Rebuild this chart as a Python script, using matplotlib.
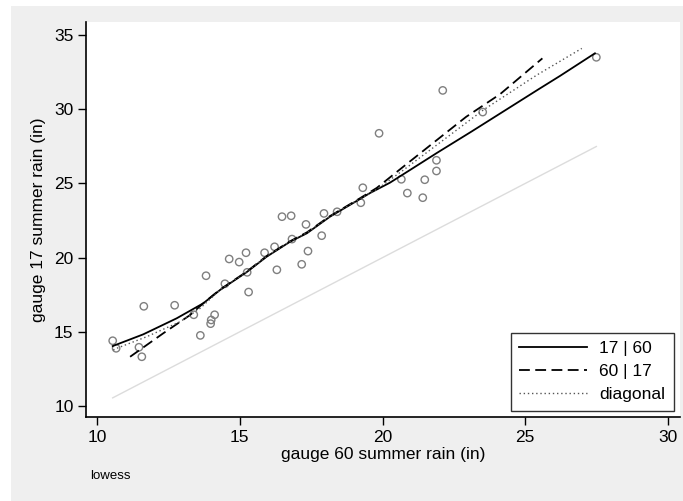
import numpy as np
import matplotlib
matplotlib.use("Agg")
import matplotlib.pyplot as plt
from matplotlib.patches import Rectangle

plt.rcParams['font.family'] = ['Liberation Sans Narrow', 'Liberation Sans', 'DejaVu Sans']

# summer rain at the two gauges (inches)
gauge60 = [10.55, 10.67, 11.47, 11.57, 11.64, 12.72, 13.39, 13.62, 14.00, 13.98,
           14.12, 13.82, 14.48, 14.63, 14.98, 15.22, 15.26, 15.31, 15.87, 16.22,
           16.30, 16.48, 16.80, 16.83, 17.32, 17.39, 17.17, 17.87, 17.95, 18.41,
           19.24, 19.31, 19.88, 20.66, 20.87, 21.48, 21.41, 21.89, 21.89, 22.11,
           23.51, 27.49]
gauge17 = [14.40, 13.89, 13.96, 13.32, 16.72, 16.79, 16.15, 14.76, 15.80, 15.55,
           16.15, 18.78, 18.24, 19.91, 19.70, 20.33, 19.01, 17.68, 20.33, 20.73,
           19.18, 22.76, 22.82, 21.25, 22.24, 20.44, 19.55, 21.48, 22.98, 23.09,
           23.70, 24.71, 28.38, 25.28, 24.35, 25.25, 24.04, 26.56, 25.84, 31.27,
           29.81, 33.50]

# lowess curves
smooth_17_x = [10.55, 11.62, 12.79, 13.72, 14.31, 15.24, 15.94, 16.76, 17.35, 18.16,
               19.21, 19.56, 20.26, 21.00, 21.90, 23.12, 25.46, 26.22, 27.44]
smooth_17_y = [14.04, 14.83, 15.91, 16.92, 17.82, 19.02, 20.06, 21.07, 21.64, 22.76,
               23.95, 24.35, 25.05, 25.95, 27.05, 28.50, 31.34, 32.25, 33.77]

smooth_60_x = [11.16, 12.32, 13.26, 13.72, 14.31, 15.24, 15.94, 16.76, 17.35, 18.16,
               19.21, 19.80, 20.73, 21.90, 22.93, 24.12, 25.60]
smooth_60_y = [13.32, 14.90, 16.13, 16.92, 17.85, 19.05, 20.10, 21.10, 21.70, 22.80,
               24.00, 24.70, 26.13, 27.92, 29.49, 31.02, 33.43]

diag_x = [10.57, 10.69, 11.74, 12.91, 13.61, 14.31, 15.24, 15.94, 16.76, 17.35,
          18.16, 19.21, 19.80, 20.73, 21.90, 23.53, 25.40, 26.98]
diag_y = [13.77, 13.89, 14.67, 15.68, 16.58, 17.83, 19.03, 20.08, 21.08, 21.67,
          22.78, 23.96, 24.60, 25.90, 27.59, 29.95, 32.30, 34.10]

xticks = [10, 15, 20, 25, 30]
yticks = [10, 15, 20, 25, 30, 35]

fig = plt.figure(figsize=(6.83, 5.01), dpi=100, facecolor='white')
fig.patches.append(Rectangle((11/683, 0), 1, 1 - 6/501, transform=fig.transFigure,
                             facecolor='#efefef', edgecolor='none', zorder=-10))
ax = fig.add_axes([86/683, 1 - 417/501, 594/683, 395/501])
ax.set_facecolor('white')

# line of equality
lo, hi = min(gauge60), max(gauge60)
ax.plot([lo, hi], [lo, hi], color='#dcdcdc', lw=1.0, zorder=1)

ax.scatter(gauge60, gauge17, s=28, facecolors='none', edgecolors='#7f7f7f', linewidths=1.0, zorder=2)

ax.plot(smooth_17_x, smooth_17_y, color='black', lw=1.3, ls='-', label='17 | 60', zorder=3)
ax.plot(smooth_60_x, smooth_60_y, color='black', lw=1.3, ls=(0, (6, 3)), label='60 | 17', zorder=3)
ax.plot(diag_x, diag_y, color='#555555', lw=1.0, ls=(0, (1, 2)), label='diagonal', zorder=3)

ax.set_xlim(9.615, 30.42)
ax.set_ylim(9.26, 35.88)
ax.set_xticks(xticks)
ax.set_yticks(yticks)
ax.tick_params(direction='out', length=6, width=1, labelsize=12.5, pad=3)
for s in ['top', 'right']:
    ax.spines[s].set_visible(False)
for s in ['left', 'bottom']:
    ax.spines[s].set_linewidth(1.2)

ax.set_xlabel('gauge 60 summer rain (in)', fontsize=12.5, labelpad=2)
ax.set_ylabel('gauge 17 summer rain (in)', fontsize=12.5, labelpad=6)

leg = ax.legend(loc='lower right', bbox_to_anchor=(1 - 6/594, 6/395), frameon=True,
                fancybox=False, edgecolor='black', fontsize=12.5, handlelength=3.9,
                borderpad=0.5, labelspacing=0.45, handletextpad=0.7, borderaxespad=0)
leg.get_frame().set_linewidth(1.0)

fig.text(90/683, 1 - 476/501, 'lowess', fontsize=9.5, va='center', ha='left')

fig.savefig('out.png', dpi=100, facecolor=fig.get_facecolor())
